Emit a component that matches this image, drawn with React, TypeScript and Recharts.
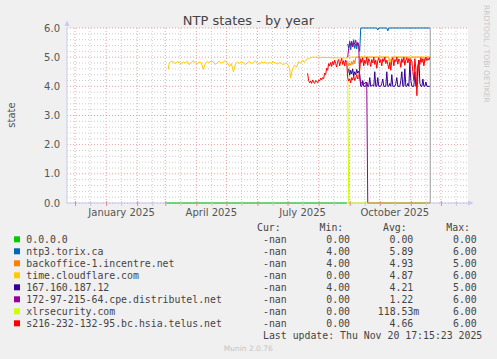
import { CartesianGrid, Line, LineChart, ReferenceLine, XAxis, YAxis } from "recharts"

// x values are days counted from 2025-01-01
const X_MIN = -39
const X_MAX = 361
const NOW = 323.3

const monthStarts = [-31, 0, 31, 59, 90, 120, 151, 181, 212, 243, 273, 304, 334]
const midMonths = [-16, 15, 46, 74, 105, 135, 166, 196, 227, 258, 288, 319, 349]
const labelDays = [15.5, 105, 196, 288]
const labelNames = ["January 2025", "April 2025", "July 2025", "October 2025"]
const yMajor = [0, 1, 2, 3, 4, 5, 6]
const yMinor = [
  0.2, 0.4, 0.6, 0.8, 1.2, 1.4, 1.6, 1.8, 2.2, 2.4, 2.6, 2.8,
  3.2, 3.4, 3.6, 3.8, 4.2, 4.4, 4.6, 4.8, 5.2, 5.4, 5.6, 5.8,
]

const zeroAddr: [number, number][] = [
  [60, 0], [240, 0],
]

const torix: [number, number][] = [
  [241, 5.45], [242, 5.3], [243, 5.55], [244, 5.25], [245, 5.5], [246, 5.35], [247, 5.6], [248, 5.3],
  [249, 5.45], [250, 5.28], [251, 5.5], [252, 5.4], [253, 5.2], [254, 6.0], [270, 6.0], [271, 5.93],
  [272, 6.0], [280, 6.0], [281, 5.9], [282, 6.0], [323, 6.0],
]

const backoffice: [number, number][] = [
  [241, 4.85], [242, 4.7], [243, 4.8], [244, 4.72], [245, 4.85], [246, 4.75], [247, 4.9], [248, 4.78],
  [249, 5.0], [282, 5.0], [283, 4.72], [284, 4.9], [285, 5.0], [302, 5.0], [303, 4.88], [304, 5.0],
  [317, 5.0], [318, 4.85], [319, 5.0], [323, 5.0],
]

const cloudflare: [number, number][] = [
  [62, 4.58], [63, 4.8], [65, 4.86], [67, 4.83], [69, 4.78], [71, 4.85], [73, 4.82], [75, 4.76],
  [77, 4.84], [79, 4.8], [81, 4.86], [83, 4.74], [85, 4.82], [87, 4.88], [89, 4.8], [91, 4.77],
  [93, 4.84], [95, 4.8], [97, 4.58], [99, 4.79], [101, 4.85], [103, 4.81], [105, 4.88], [107, 4.83],
  [109, 4.75], [111, 4.82], [113, 4.86], [115, 4.79], [117, 4.84], [119, 4.88], [121, 4.8], [123, 4.68],
  [125, 4.78], [127, 4.5], [129, 4.76], [131, 4.83], [133, 4.79], [135, 4.85], [137, 4.8], [139, 4.74],
  [141, 4.82], [143, 4.85], [145, 4.78], [147, 4.82], [149, 4.87], [151, 4.8], [153, 4.76], [155, 4.84],
  [157, 4.8], [159, 4.83], [161, 4.77], [163, 4.82], [165, 4.79], [167, 4.84], [169, 4.8], [171, 4.76],
  [173, 4.82], [175, 4.78], [177, 4.74], [179, 4.8], [181, 4.76], [183, 4.62], [184, 4.28], [186, 4.6],
  [188, 4.72], [190, 4.66], [192, 4.85], [194, 4.78], [196, 4.9], [198, 4.82], [200, 4.93], [202, 4.95],
  [204, 4.98], [206, 5.0], [240, 4.97], [242, 5.0], [282, 5.0], [283, 4.78], [285, 5.0], [323, 5.0],
]

const host167: [number, number][] = [
  [241, 4.45], [242, 4.6], [243, 4.38], [244, 4.55], [245, 4.42], [246, 4.6], [247, 4.35], [248, 4.5],
  [249, 4.4], [250, 4.58], [251, 4.45], [252, 4.52], [253, 4.4], [254, 4.0], [255, 4.0], [256, 4.2],
  [257, 4.0], [259, 4.0], [260, 4.15], [261, 4.0], [262, 4.0], [263, 4.3], [264, 4.0], [266, 4.05],
  [267, 4.0], [268, 4.5], [269, 4.0], [270, 4.0], [271, 4.3], [272, 4.0], [274, 4.0], [275, 4.1],
  [276, 4.25], [277, 4.0], [279, 4.0], [280, 4.5], [281, 4.0], [282, 4.0], [283, 4.1], [284, 4.0],
  [285, 4.4], [286, 4.0], [288, 4.0], [289, 4.1], [290, 4.3], [291, 4.0], [293, 4.0], [294, 4.2],
  [295, 4.5], [296, 4.0], [297, 4.0], [298, 4.6], [299, 4.0], [300, 4.0], [301, 4.1], [302, 4.0],
  [303, 4.8], [304, 4.2], [305, 4.0], [307, 4.0], [308, 4.5], [309, 4.0], [310, 4.0], [311, 4.7],
  [312, 4.9], [313, 4.1], [314, 4.0], [315, 4.0], [316, 4.25], [317, 4.0], [318, 4.0], [319, 4.15],
  [320, 4.0], [323, 4.0],
]

const distributel: [number, number][] = [
  [241, 5.0], [242, 5.3], [243, 5.5], [244, 5.4], [245, 5.55], [246, 5.35], [247, 5.5], [248, 5.45],
  [249, 5.58], [250, 5.4], [251, 5.5], [252, 5.38], [253, 4.3], [254, 4.1], [255, 4.15], [256, 4.05],
  [257, 4.12], [258, 4.08], [259, 4.15], [260, 4.1], [261, 0], [323, 0],
]

const xlr: [number, number][] = [
  [241, 4.85], [242, 0], [323, 0],
]

const telus: [number, number][] = [
  [201, 4.45], [202, 4.2], [203, 4.12], [204, 4.18], [205, 4.1], [206, 4.22], [207, 4.14], [208, 4.1],
  [209, 4.2], [210, 4.15], [211, 4.12], [212, 4.22], [213, 4.18], [214, 4.28], [215, 4.22], [216, 4.3],
  [217, 4.26], [218, 4.45], [219, 4.4], [220, 4.62], [221, 4.55], [222, 4.78], [223, 4.7], [224, 4.82],
  [225, 4.68], [226, 4.85], [227, 4.74], [228, 4.9], [229, 4.78], [230, 4.66], [231, 4.86], [232, 4.92],
  [233, 4.7], [234, 4.84], [235, 4.96], [236, 4.75], [237, 4.88], [238, 4.7], [239, 4.9], [240, 4.82],
  [241, 4.3], [242, 4.18], [243, 4.26], [244, 4.12], [245, 4.3], [246, 4.22], [247, 4.35], [248, 4.2],
  [249, 4.28], [250, 4.4], [251, 4.25], [252, 4.3], [253, 4.55], [254, 4.95], [255, 4.82], [256, 4.98],
  [257, 4.7], [258, 4.9], [259, 4.78], [260, 5.0], [261, 4.72], [262, 4.95], [263, 4.85], [264, 4.68],
  [265, 4.92], [266, 4.8], [267, 5.0], [268, 4.75], [269, 4.9], [270, 4.62], [271, 4.88], [272, 4.98],
  [273, 4.8], [274, 4.92], [275, 4.7], [276, 4.95], [277, 4.85], [278, 5.0], [279, 4.78], [280, 4.9],
  [281, 4.75], [282, 4.6], [283, 4.82], [284, 4.55], [285, 4.9], [286, 4.98], [287, 4.7], [288, 4.92],
  [289, 4.85], [290, 5.0], [291, 4.76], [292, 4.94], [293, 4.88], [294, 4.65], [295, 4.95], [296, 4.82],
  [297, 5.0], [298, 4.72], [299, 4.9], [300, 4.98], [301, 4.8], [302, 4.95], [303, 4.7], [304, 4.92],
  [305, 4.86], [306, 4.5], [307, 4.2], [308, 4.95], [309, 4.6], [310, 3.68], [311, 4.4], [312, 4.9],
  [313, 4.75], [314, 4.98], [315, 4.82], [316, 4.95], [317, 4.7], [318, 4.92], [319, 5.0], [320, 4.88],
  [321, 4.96], [322, 4.9], [323, 5.0],
]

const seriesNames = [
  "0.0.0.0",
  "ntp3.torix.ca",
  "backoffice-1.incentre.net",
  "time.cloudflare.com",
  "167.160.187.12",
  "172-97-215-64.cpe.distributel.net",
  "xlrsecurity.com",
  "s216-232-132-95.bc.hsia.telus.net",
]
const seriesData = [zeroAddr, torix, backoffice, cloudflare, host167, distributel, xlr, telus]
const colors = ["#00CC00", "#0066B3", "#FF8000", "#FFCC00", "#330099", "#990099", "#CCFF00", "#FF0000"]
const curVals = ["-nan", "-nan", "-nan", "-nan", "-nan", "-nan", "-nan", "-nan"]
const minVals = ["0.00", "4.00", "4.00", "0.00", "4.00", "0.00", "0.00", "0.00"]
const avgVals = ["0.00", "5.89", "4.93", "4.87", "4.21", "1.22", "118.53m", "4.66"]
const maxVals = ["0.00", "6.00", "5.00", "6.00", "5.00", "6.00", "6.00", "6.00"]

const W = 497
const H = 359
const P_LEFT = 67
const P_RIGHT = 468
const P_TOP = 28
const P_BOTTOM = 203

const dayX = (d: number) => P_LEFT + ((d - X_MIN) * (P_RIGHT - P_LEFT)) / (X_MAX - X_MIN)

const sans = "DejaVu Sans, sans-serif"
const mono = "DejaVu Sans Mono, monospace"
const axisColor = "#c8c8f4"

export default function App() {
  const rowY = (i: number) => 239.3 + i * 12
  return (
    <div style={{ position: "absolute", left: 0, top: 0, width: W, height: H, background: "#F0F0F0" }}>
      <LineChart width={W} height={H} margin={{ top: P_TOP, right: W - P_RIGHT, bottom: H - P_BOTTOM - 20, left: 0 }}>
        <CartesianGrid
          fill="#ffffff"
          stroke="#cccccc"
          strokeDasharray="1 2"
          horizontal={false}
          verticalValues={midMonths}
        />
        {yMinor.map((v) => (
          <ReferenceLine key={"h" + v} y={v} stroke="#cccccc" strokeDasharray="1 2" />
        ))}
        <CartesianGrid
          stroke="#eaa0a0"
          strokeDasharray="1 2"
          horizontalValues={yMajor}
          verticalValues={monthStarts}
        />
        <XAxis
          type="number"
          dataKey="x"
          domain={[X_MIN, X_MAX]}
          allowDataOverflow
          ticks={labelDays}
          tickFormatter={(v: number) => labelNames[labelDays.indexOf(v)] ?? ""}
          interval={0}
          height={20}
          tickLine={false}
          axisLine={false}
          tickMargin={0}
          tick={{ fill: "#555", fontSize: 10, fontFamily: sans }}
        />
        <YAxis
          type="number"
          domain={[0, 6]}
          ticks={yMajor}
          tickFormatter={(v: number) => v.toFixed(1)}
          width={P_LEFT}
          tickLine={false}
          axisLine={false}
          tickMargin={1}
          tick={{ fill: "#555", fontSize: 10, fontFamily: sans }}
        />
        <ReferenceLine y={0} stroke={axisColor} />
        <ReferenceLine x={X_MIN} stroke={axisColor} />
        <ReferenceLine x={NOW} stroke="#9a9a9a" />
        {seriesData.map((s, i) => (
          <Line
            key={seriesNames[i]}
            data={s.map(([x, y]) => ({ x, y }))}
            dataKey="y"
            type="linear"
            stroke={colors[i]}
            strokeWidth={1}
            dot={false}
            activeDot={false}
            isAnimationActive={false}
          />
        ))}
      </LineChart>
      <svg
        width={W}
        height={H}
        style={{ position: "absolute", left: 0, top: 0, pointerEvents: "none" }}
      >
        <text x={248.5} y={24.5} textAnchor="middle" fontFamily={sans} fontSize={13} fill="#444">
          NTP states - by year
        </text>
        <text
          x={484}
          y={5}
          transform="rotate(90 484 5)"
          fontFamily={sans}
          fontSize={7.6}
          fill="#c8c8c8"
        >
          RRDTOOL / TOBI OETIKER
        </text>
        <text
          x={11}
          y={115}
          transform="rotate(-90 11 115)"
          textAnchor="middle"
          dominantBaseline="central"
          fontFamily={sans}
          fontSize={10}
          fill="#555"
        >
          state
        </text>
        <polygon points="64.5,26 69.5,26 67,20.5" fill={axisColor} />
        <polygon points="468,200.5 468,205.5 473.5,203" fill={axisColor} />
        <line x1={P_RIGHT} x2={470} y1={203.5} y2={203.5} stroke={axisColor} />
        {midMonths.map((d) => (
          <line key={"m" + d} x1={dayX(d) + 0.5} x2={dayX(d) + 0.5} y1={201} y2={206} stroke="#cccccc" />
        ))}
        {monthStarts.map((d) => (
          <line key={"M" + d} x1={dayX(d) + 0.5} x2={dayX(d) + 0.5} y1={201} y2={206} stroke="#e88c8c" />
        ))}
        <g fontFamily={mono} fontSize={9.85} fill="#444">
          <text x={280.7} y={230.9} textAnchor="end">Cur:</text>
          <text x={343.3} y={230.9} textAnchor="end">Min:</text>
          <text x={406.7} y={230.9} textAnchor="end">Avg:</text>
          <text x={470} y={230.9} textAnchor="end">Max:</text>
          {seriesNames.map((name, i) => (
            <g key={name}>
              <rect x={14} y={rowY(i) - 3} width={6} height={6} fill={colors[i]} />
              <text x={26.3} y={rowY(i) + 3.6}>{name}</text>
              <text x={286.7} y={rowY(i) + 3.6} textAnchor="end">{curVals[i]}</text>
              <text x={350} y={rowY(i) + 3.6} textAnchor="end">{minVals[i]}</text>
              <text x={avgVals[i].endsWith("m") ? 419.3 : 413.3} y={rowY(i) + 3.6} textAnchor="end">
                {avgVals[i]}
              </text>
              <text x={476.7} y={rowY(i) + 3.6} textAnchor="end">{maxVals[i]}</text>
            </g>
          ))}
          <text x={482.3} y={338.6} textAnchor="end">Last update: Thu Nov 20 17:15:23 2025</text>
        </g>
        <text x={248.3} y={351} textAnchor="middle" fontFamily={sans} fontSize={7.5} fill="#c4c4c4">
          Munin 2.0.76
        </text>
      </svg>
    </div>
  )
}
